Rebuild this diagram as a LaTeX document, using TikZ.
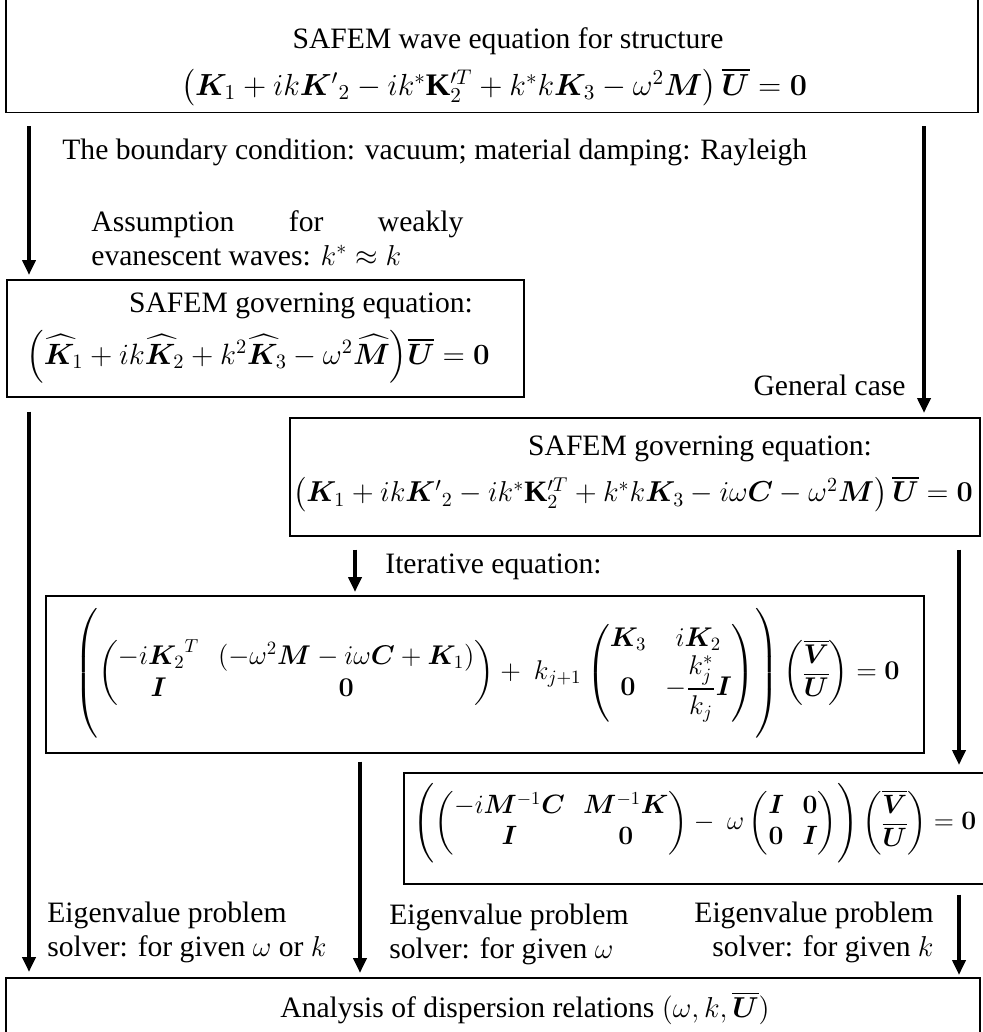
\documentclass[tikz,border=0pt]{standalone}
\usepackage{amsmath}
\usepackage{bm}
\usepackage{graphicx}
\usepackage{fontspec}
\setmainfont{Liberation Serif}
\usetikzlibrary{arrows.meta,calc}
\tikzset{
  every node/.style={font=\fontsize{14.8}{17}\selectfont, inner sep=0pt},
  boxnode/.style={draw, line width=0.75pt, rectangle, anchor=north west},
  txt/.style={inner sep=0pt},
  arr/.style={line width=2pt, -{Triangle[length=7.5pt,width=6.5pt]}},
}
\begin{document}
\begin{tikzpicture}[x=0.5pt,y=-0.5pt]
\useasboundingbox (0,0) rectangle (982,1032);
% boxes
\node[boxnode, minimum width=486pt, minimum height=58.5pt] (b1) at (5,-5) {};
\node[boxnode, minimum width=258.5pt, minimum height=58.5pt] (b2) at (6,279) {};
\node[boxnode, minimum width=345pt, minimum height=59pt] (b3) at (289,417) {};
\node[boxnode, minimum width=439pt, minimum height=78.5pt] (b4) at (45,595) {};
\node[boxnode, minimum width=296pt, minimum height=55.5pt] (b5) at (403,772) {};
\node[boxnode, minimum width=487pt, minimum height=40pt] (b6) at (5,977) {};
% texts in boxes
\node[txt] (t1a) at (508,41) {SAFEM wave equation for structure};
\node[txt] (t1b) at (494,87) {\scalebox{1.06}{$\left(\bm{K}_1 + ik{\bm{K}'}_2 - ik^*\mathbf{K}'^{T}_{2} + k^*k\bm{K}_3 - \omega^2\bm{M}\right)\overline{\bm{U}} = \bm{0}$}};
\node[txt] (t2a) at (301,306) {SAFEM governing equation:};
\node[txt] (t2b) at (258,357) {\scalebox{1.02}{$\Big(\widehat{\bm{K}}_1 + ik\widehat{\bm{K}}_2 + k^2\widehat{\bm{K}}_3 - \omega^2\widehat{\bm{M}}\Big)\overline{\bm{U}} = \bm{0}$}};
\node[txt] (t3a) at (700,449) {SAFEM governing equation:};
\node[txt] (t3b) at (633,494) {$\left(\bm{K}_1 + ik{\bm{K}'}_2 - ik^*\mathbf{K}'^{T}_{2} + k^*k\bm{K}_3 - i\omega\bm{C} - \omega^2\bm{M}\right)\overline{\bm{U}} = \bm{0}$};
\node[txt] (t4) at (487,673) {\scalebox{0.94}{$\displaystyle \left(\vrule height 32pt depth 30pt width 0pt\begin{pmatrix} -i{\bm{K}_2}^{T} & (-\omega^2\bm{M} - i\omega\bm{C} + \bm{K}_1) \\ \bm{I} & \bm{0}\end{pmatrix} +\ k_{j+1}\begin{pmatrix}\bm{K}_3 & i\bm{K}_2 \\ \bm{0} & -\dfrac{k_j^*}{k_j}\bm{I}\end{pmatrix}\right)\begin{pmatrix}\overline{\bm{V}}\\ \overline{\bm{U}}\end{pmatrix} = \bm{0}$}};
\node[txt] (t5) at (695,824) {\scalebox{0.92}{$\displaystyle \left(\vrule height 22pt depth 19pt width 0pt\begin{pmatrix} -i\bm{M}^{-1}\bm{C} & \bm{M}^{-1}\bm{K}\\ \bm{I} & \bm{0}\end{pmatrix} -\ \omega\begin{pmatrix}\bm{I} & \bm{0}\\ \bm{0} & \bm{I}\end{pmatrix}\right)\begin{pmatrix}\overline{\bm{V}}\\ \overline{\bm{U}}\end{pmatrix} = \bm{0}$}};
\node[txt] (t6) at (525,1008) {Analysis of dispersion relations $(\omega, k, \overline{\bm{U}})$};
% labels
\node[txt, anchor=west] (l1) at (62,152) {The boundary condition: vacuum; material damping: Rayleigh};
\node[txt, anchor=west, align=left] (l2) at (91,238) {\hbox to 186pt{Assumption\hfill for\hfill weakly}\\ evanescent waves: $k^{*}\approx k$};
\node[txt, anchor=east] (l3) at (906,385) {General case};
\node[txt, anchor=west] (l4) at (385,567) {Iterative equation:};
\node[txt, anchor=west, align=left] (l5) at (47,932) {Eigenvalue problem\\ solver: for given $\omega$ or $k$};
\node[txt, anchor=west, align=left] (l6) at (389,934) {Eigenvalue problem\\ solver: for given $\omega$};
\node[txt, anchor=east, align=right] (l7) at (934,932) {Eigenvalue problem\\ solver: for given $k$};
% arrow x positions
\coordinate (xL) at (29,0);
\coordinate (xR) at (924,0);
\coordinate (xM) at (355,0);
\coordinate (xN) at (360,0);
\coordinate (xS) at (959,0);
% arrows
\draw[arr] ($(b1.south -| xL)+(0,13)$) -- ($(b2.north -| xL)+(0,-4)$);
\draw[arr] ($(b1.south -| xR)+(0,13)$) -- ($(b3.north -| xR)+(0,-4)$);
\draw[arr] ($(b2.south -| xL)+(0,14)$) -- ($(b6.north -| xL)+(0,-5)$);
\draw[arr] ($(b3.south -| xM)+(0,13)$) -- ($(b4.north -| xM)+(0,-3)$);
\draw[arr] ($(b3.south -| xS)+(0,13)$) -- ($(b5.north -| xS)+(0,-7)$);
\draw[arr] ($(b4.south -| xN)+(0,8)$) -- ($(b6.north -| xN)+(0,-4)$);
\draw[arr] ($(b5.south -| xS)+(0,10)$) -- ($(b6.north -| xS)+(0,-2)$);
\end{tikzpicture}
\end{document}
